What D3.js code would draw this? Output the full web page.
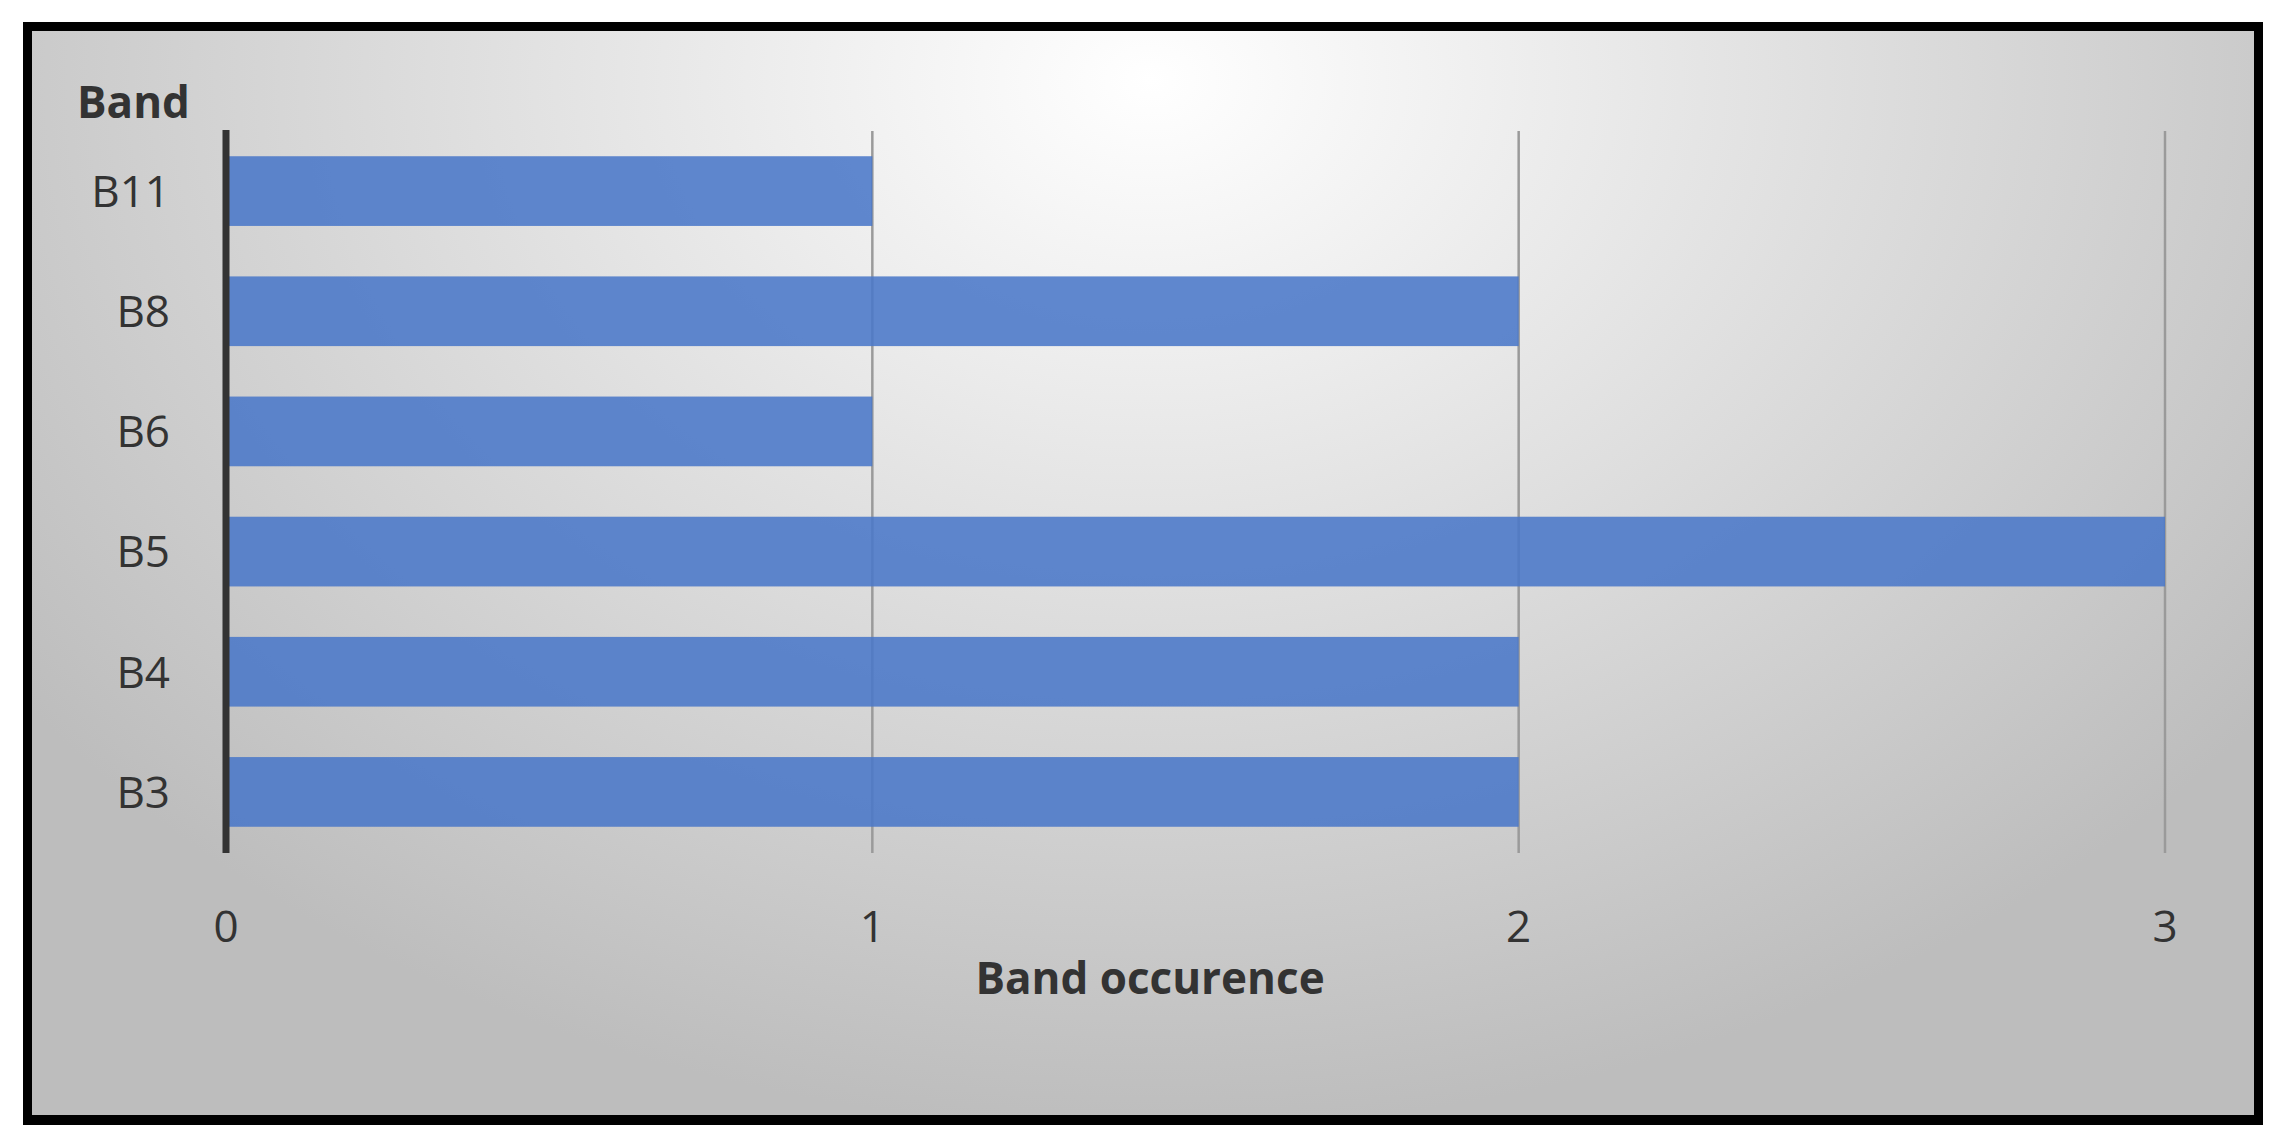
<!DOCTYPE html>
<html>
<head>
<meta charset="utf-8">
<script src="https://cdn.jsdelivr.net/npm/d3@7"></script>
<style>body{margin:0;background:#fff}</style>
</head>
<body>
<script>
var bands = ['B11', 'B8', 'B6', 'B5', 'B4', 'B3'];
var counts = [1, 2, 1, 3, 2, 2];
var ticks = [0, 1, 2, 3];

var W = 2284, H = 1144;
var svg = d3.select('body').append('svg').attr('width', W).attr('height', H);

var defs = svg.append('defs');
var grad = defs.append('radialGradient').attr('id', 'bg')
  .attr('gradientUnits', 'userSpaceOnUse')
  .attr('cx', 1150).attr('cy', 80).attr('r', 1400)
  .attr('gradientTransform', 'translate(1150,80) scale(1,0.75) translate(-1150,-80)');
grad.append('stop').attr('offset', '0').attr('stop-color', '#ffffff');
grad.append('stop').attr('offset', '1').attr('stop-color', '#bdbdbd');

svg.append('rect').attr('x', 23).attr('y', 22).attr('width', 2240).attr('height', 1103).attr('fill', '#000');
svg.append('rect').attr('x', 32).attr('y', 31).attr('width', 2222).attr('height', 1084).attr('fill', 'url(#bg)');

var x = d3.scaleLinear().domain([0, 3]).range([226, 2165]);
var y = d3.scaleBand().domain(bands).range([131, 852]).paddingInner(0.42).paddingOuter(0.21);

// gridlines
svg.append('g').selectAll('line').data(ticks.slice(1)).join('line')
  .attr('x1', d => x(d)).attr('x2', d => x(d))
  .attr('y1', 131).attr('y2', 853)
  .attr('stroke', '#9a9a9a').attr('stroke-width', 2.5);

svg.append('g').selectAll('rect').data(bands).join('rect')
  .attr('x', x(0)).attr('y', d => y(d))
  .attr('width', (d, i) => x(counts[i]) - x(0))
  .attr('height', y.bandwidth())
  .attr('fill', '#4a78c8').attr('fill-opacity', 0.88);

// zero axis line
svg.append('line').attr('x1', x(0)).attr('x2', x(0)).attr('y1', 130).attr('y2', 853)
  .attr('stroke', '#333').attr('stroke-width', 7);

var font = "'Open Sans', 'Noto Sans', sans-serif";
svg.append('g').selectAll('text').data(bands).join('text')
  .attr('x', 170).attr('y', d => y(d) + y.bandwidth() / 2)
  .attr('dy', '0.36em').attr('text-anchor', 'end')
  .attr('font-family', font).attr('font-size', 44).attr('fill', '#333')
  .text(d => d);

svg.append('g').selectAll('text').data(ticks).join('text')
  .attr('x', d => x(d)).attr('y', 942).attr('text-anchor', 'middle')
  .attr('font-family', font).attr('font-size', 44).attr('fill', '#333')
  .text(d => d);

svg.append('text').attr('x', 77).attr('y', 118)
  .attr('font-family', font).attr('font-weight', 'bold').attr('font-size', 44).attr('fill', '#333')
  .text('Band');
svg.append('text').attr('x', 1150).attr('y', 994).attr('text-anchor', 'middle')
  .attr('font-family', font).attr('font-weight', 'bold').attr('font-size', 44).attr('fill', '#333')
  .text('Band occurence');
</script>
</body>
</html>
